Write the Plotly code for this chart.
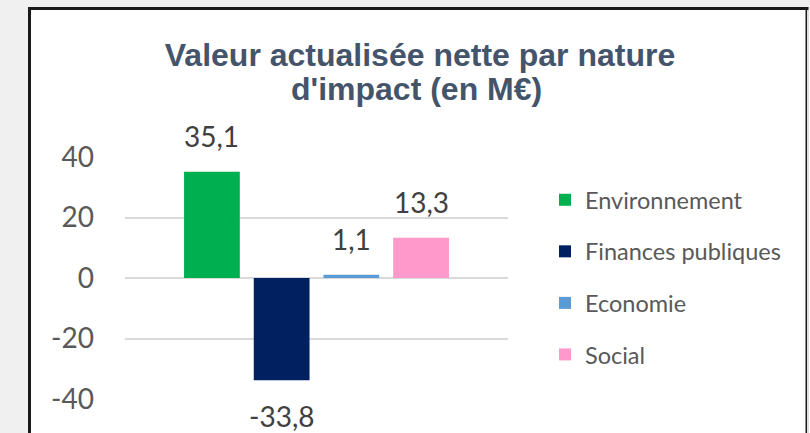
import plotly.graph_objects as go

# ---- data ----
series_names = ["Environnement", "Finances publiques", "Economie", "Social"]
series_values = [35.1, -33.8, 1.1, 13.3]
series_colors = ["#00B050", "#002060", "#5B9BD5", "#FF99CC"]
y_ticks = [-40, -20, 0, 20, 40]
y_tick_labels = ["-40", "-20", "0", "20", "40"]
title_line1 = "Valeur actualisée nette par nature"
title_line2 = "d'impact (en M€)"

# ---- geometry ----
W, H = 810, 433
ML, MR, MT, MB = 125, 302, 157, 34
PW, PH = W - ML - MR, H - MT - MB

def px(xp):
    return (xp - ML) / PW

def py(yp):
    return (H - MB - yp) / PH

title_font = dict(family="Liberation Sans", size=32, color="#44546A", weight="bold")

fig = go.Figure()
for i, (name, val, col) in enumerate(zip(series_names, series_values, series_colors)):
    fig.add_trace(go.Bar(
        x=[i], y=[val], name=name, width=0.8,
        marker=dict(color=col, line=dict(width=0)),
        legendgroup=name,
    ))
    fig.add_annotation(
        x=i, y=val, xref="x", yref="y",
        text=f"{val:.1f}".replace(".", ","),
        showarrow=False,
        yanchor="bottom" if val >= 0 else "top",
        yshift=17 if val >= 0 else -17,
        font=dict(family="Lato", size=28, color="#404040"),
    )

# second title line (tighter line spacing than Plotly's built-in title allows)
fig.add_annotation(
    xref="paper", yref="paper", x=px(416), y=py(89), xanchor="center", yanchor="middle",
    text=title_line2, showarrow=False, font=title_font,
)

fig.update_layout(
    width=W, height=H,
    margin=dict(l=ML, r=MR, t=MT, b=MB, pad=0),
    paper_bgcolor="#F0F0F0",
    plot_bgcolor="rgba(0,0,0,0)",
    barmode="overlay",
    showlegend=True,
    title=dict(
        text=title_line1, xref="container", x=420 / W, xanchor="center",
        yref="container", y=1 - 55 / H, yanchor="middle",
        font=title_font,
    ),
    legend=dict(
        x=px(545), xanchor="left", y=py(178), yanchor="top",
        font=dict(family="Lato", size=23.5, color="#595959"),
        tracegroupgap=18, bgcolor="rgba(0,0,0,0)",
    ),
    xaxis=dict(range=[-1.247, 4.247], showticklabels=False, showgrid=False,
               zeroline=False, showline=False, fixedrange=True),
    yaxis=dict(range=[-40, 40], tickvals=y_ticks, ticktext=y_tick_labels,
               showgrid=True, gridcolor="#D9D9D9",
               gridwidth=2, zeroline=False, showline=False, ticks="",
               ticklabelstandoff=30,
               tickfont=dict(family="Lato", size=28, color="#595959")),
    shapes=[
        dict(type="rect", xref="paper", yref="paper", layer="below",
             x0=px(29.5), x1=px(807), y0=py(H + 20), y1=py(8.5),
             fillcolor="white", line=dict(color="#1A1A1A", width=3)),
        dict(type="rect", xref="paper", yref="paper", layer="below",
             x0=px(807), x1=px(W + 5), y0=py(H + 20), y1=py(10),
             fillcolor="white", line=dict(width=0)),
        dict(type="line", xref="paper", yref="paper", layer="below",
             x0=px(808), x1=px(808), y0=py(H + 20), y1=py(10),
             line=dict(color="#BFBFBF", width=1)),
    ],
)

fig.write_html(
    "out.html",
    config={"displayModeBar": False},
    post_script="document.body.style.margin='0';document.body.style.overflow='hidden';",
)
